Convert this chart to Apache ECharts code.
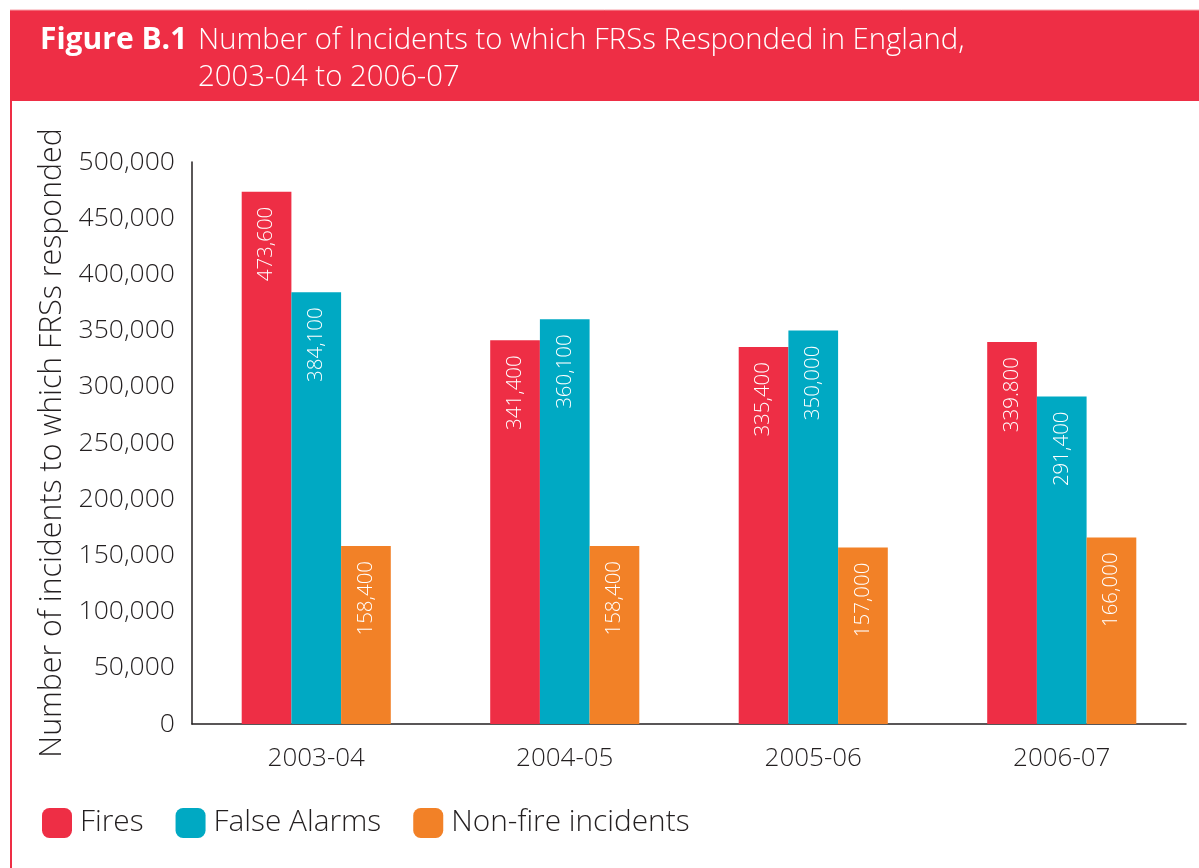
<!DOCTYPE html>
<html>
<head>
<meta charset="utf-8">
<script src="https://cdn.jsdelivr.net/npm/echarts@6/dist/echarts.min.js"></script>
<style>
  html, body { margin: 0; padding: 0; background: #fff; }
  #chart { width: 1199px; height: 868px; }
</style>
</head>
<body>
<div id="chart"></div>
<script>
const categories = ['2003-04', '2004-05', '2005-06', '2006-07'];
const fires = [473600, 341400, 335400, 339800];
const falseAlarms = [384100, 360100, 350000, 291400];
const nonFire = [158400, 158400, 157000, 166000];
// labels as printed in the figure
const firesLabels = ['473,600', '341,400', '335,400', '339.800'];
const falseAlarmsLabels = ['384,100', '360,100', '350,000', '291,400'];
const nonFireLabels = ['158,400', '158,400', '157,000', '166,000'];

const FONT = "'Open Sans', sans-serif";
const RED = '#ee2e45';
const TEAL = '#00a9c3';
const ORANGE = '#f28127';
const INK = '#231f20';

const chart = echarts.init(document.getElementById('chart'));

function barLabel(texts) {
  return {
    show: true,
    position: ['50%', 15],
    rotate: 90,
    align: 'right',
    verticalAlign: 'middle',
    color: '#fff',
    fontFamily: FONT,
    fontWeight: 300,
    fontSize: 20.5,
    formatter: (p) => texts[p.dataIndex]
  };
}

const option = {
  animation: false,
  textStyle: { fontFamily: FONT },
  graphic: [
    { type: 'rect', shape: { x: 10, y: 10, width: 1189, height: 91 }, style: { fill: RED }, z: -1 },
    { type: 'line', shape: { x1: 10, y1: 10, x2: 1199, y2: 10 }, style: { stroke: '#f7a0a8', lineWidth: 1 } },
    { type: 'line', shape: { x1: 11, y1: 100, x2: 11, y2: 868 }, style: { stroke: RED, lineWidth: 2 } }
  ],
  title: [
    {
      text: 'Figure B.1',
      left: 40, top: 22, padding: 0,
      textStyle: { color: '#fff', fontFamily: FONT, fontSize: 30, fontWeight: 'bold', lineHeight: 37 }
    },
    {
      text: 'Number of Incidents to which FRSs Responded in England,\n2003-04 to 2006-07',
      left: 198, top: 22, padding: 0,
      textStyle: { color: '#fff', fontFamily: FONT, fontSize: 29.3, fontWeight: 300, lineHeight: 37 }
    }
  ],
  legend: {
    left: 42, top: 808, padding: 0,
    itemWidth: 30, itemHeight: 30, itemGap: 32,
    icon: 'roundRect',
    textStyle: { color: INK, fontFamily: FONT, fontWeight: 300, fontSize: 29.8, padding: [3, 0, 0, 3] },
    data: ['Fires', 'False Alarms', 'Non-fire incidents']
  },
  grid: { left: 192, right: 13, top: 162, bottom: 144, containLabel: false },
  xAxis: {
    type: 'category',
    data: categories,
    axisLine: { lineStyle: { color: INK, width: 1.5 } },
    axisTick: { show: false },
    axisLabel: { color: INK, fontFamily: FONT, fontWeight: 300, fontSize: 26, margin: 22 }
  },
  yAxis: {
    type: 'value',
    min: 0, max: 500000, interval: 50000,
    name: 'Number of incidents to which FRSs responded',
    nameLocation: 'middle',
    nameGap: 118,
    nameTextStyle: { color: INK, fontFamily: FONT, fontWeight: 300, fontSize: 30.3 },
    axisLine: { show: true, lineStyle: { color: INK, width: 1.5 } },
    axisTick: { show: false },
    splitLine: { show: false },
    axisLabel: {
      color: INK, fontFamily: FONT, fontWeight: 300, fontSize: 26.5, margin: 17,
      formatter: (v) => v.toLocaleString('en-GB')
    }
  },
  series: [
    { name: 'Fires', type: 'bar', data: fires, itemStyle: { color: RED }, barGap: '0%', barCategoryGap: '40%', label: barLabel(firesLabels) },
    { name: 'False Alarms', type: 'bar', data: falseAlarms, itemStyle: { color: TEAL }, label: barLabel(falseAlarmsLabels) },
    { name: 'Non-fire incidents', type: 'bar', data: nonFire, itemStyle: { color: ORANGE }, label: barLabel(nonFireLabels) }
  ]
};

chart.setOption(option);
</script>
</body>
</html>
